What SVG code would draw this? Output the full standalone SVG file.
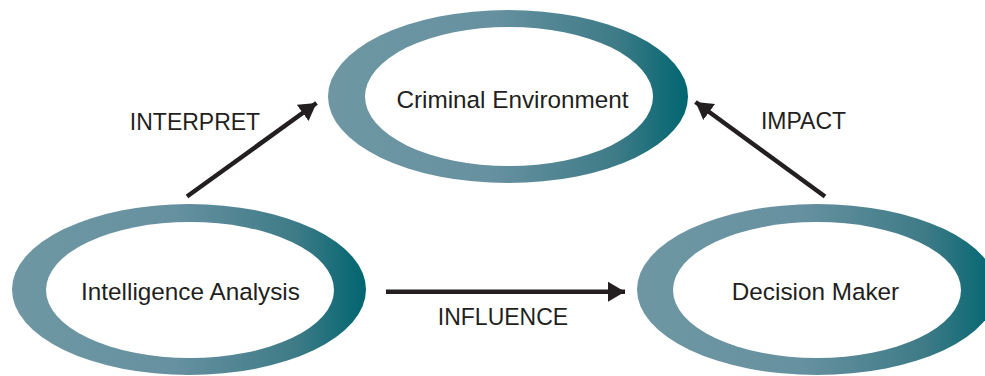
<svg xmlns="http://www.w3.org/2000/svg" width="985" height="376" viewBox="0 0 985 376">
  <defs>
    <linearGradient id="ring" x1="0" y1="0" x2="1" y2="0">
      <stop offset="0" stop-color="#6e97a3"/>
      <stop offset="0.45" stop-color="#6791a0"/>
      <stop offset="0.8" stop-color="#3e7b87"/>
      <stop offset="1" stop-color="#006570"/>
    </linearGradient>
    <marker id="arrow" markerUnits="userSpaceOnUse" markerWidth="20" markerHeight="22" refX="17" refY="10" orient="auto" viewBox="0 0 20 20">
      <polygon points="0,0 17,10 0,20" fill="#231f20"/>
    </marker>
    <style>
      .ring { fill: url(#ring); }
      .hole { fill: #ffffff; }
      .node-text { font-family: "Liberation Sans", Arial, sans-serif; font-size: 24.3px; fill: #231f20; text-anchor: middle; }
      .label { font-family: "Liberation Sans", Arial, sans-serif; font-size: 23px; fill: #231f20; text-anchor: middle; }
      .conn { stroke: #231f20; stroke-width: 4.5; fill: none; marker-end: url(#arrow); }
    </style>
  </defs>
  <rect width="985" height="376" fill="#ffffff"/>

  <g id="criminal-environment">
    <ellipse class="ring" cx="508" cy="96.5" rx="180" ry="86.5"/>
    <ellipse class="hole" cx="509" cy="96.5" rx="144" ry="69.5"/>
    <text class="node-text" x="512.5" y="108">Criminal Environment</text>
  </g>

  <g id="intelligence-analysis">
    <ellipse class="ring" cx="189" cy="289.5" rx="177" ry="85.5"/>
    <ellipse class="hole" cx="190" cy="290" rx="144" ry="68"/>
    <text class="node-text" x="190.5" y="300">Intelligence Analysis</text>
  </g>

  <g id="decision-maker">
    <ellipse class="ring" cx="817" cy="289.5" rx="180" ry="85.5"/>
    <ellipse class="hole" cx="817" cy="290" rx="144" ry="68"/>
    <text class="node-text" x="815.5" y="300">Decision Maker</text>
  </g>

  <g id="connectors">
    <line class="conn" x1="187" y1="196.5" x2="316.5" y2="103"/>
    <line class="conn" x1="825" y1="196.5" x2="695.5" y2="102"/>
    <line class="conn" x1="386" y1="291.7" x2="625" y2="291.7"/>
    <text class="label" x="195" y="129.5">INTERPRET</text>
    <text class="label" x="803.5" y="128.5">IMPACT</text>
    <text class="label" x="503" y="325">INFLUENCE</text>
  </g>
</svg>
